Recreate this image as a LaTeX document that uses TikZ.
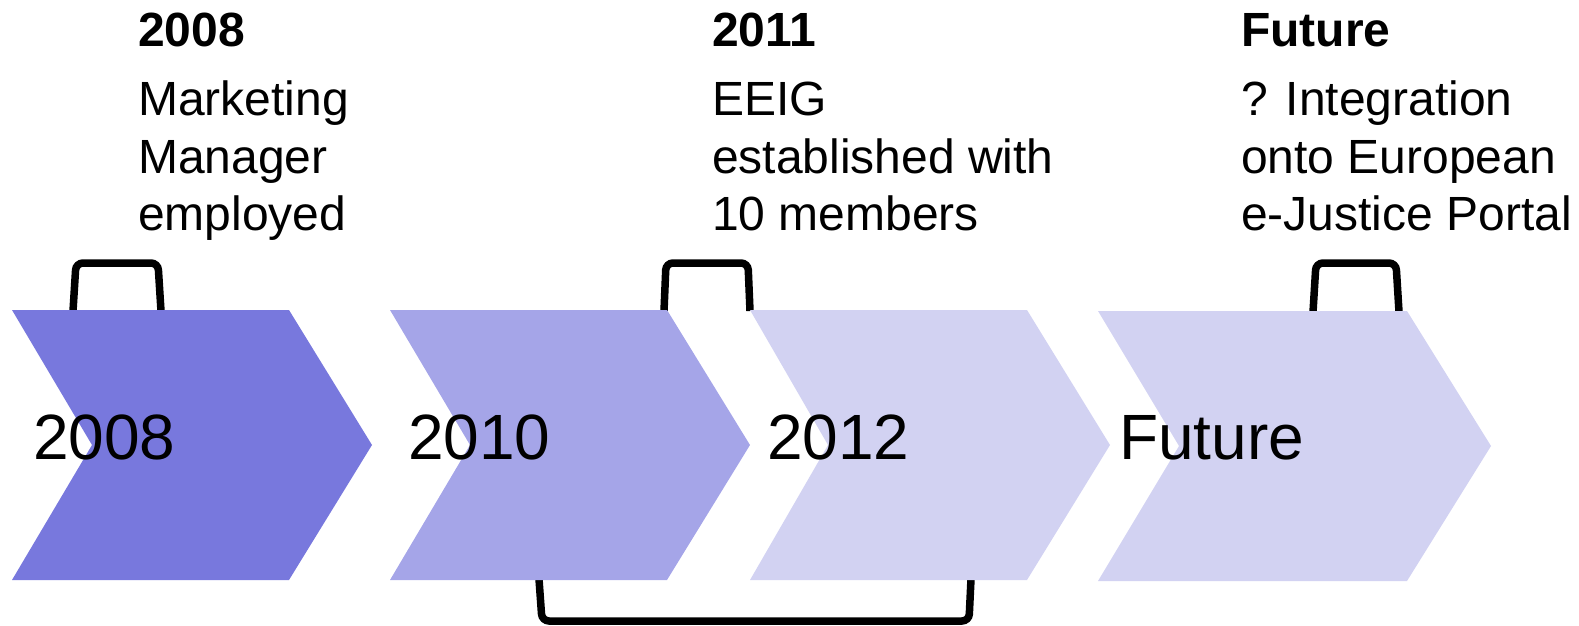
\documentclass[tikz,border=0pt]{standalone}
\usepackage{fontspec}
\setmainfont{Liberation Sans}
\definecolor{cA}{RGB}{120,120,221}
\definecolor{cB}{RGB}{165,165,232}
\definecolor{cC}{RGB}{210,210,242}
\begin{document}
\begin{tikzpicture}[x=1pt,y=-1pt,
  bracket/.style={draw=black,line width=7.5pt,rounded corners=7pt},
  head/.style={anchor=base west,inner sep=0pt,font=\fontsize{48}{58}\selectfont\bfseries},
  body/.style={anchor=base west,inner sep=0pt,font=\fontsize{48}{58}\selectfont},
  big/.style={anchor=base west,inner sep=0pt,font=\fontsize{64}{76}\selectfont}]
\useasboundingbox (0,0) rectangle (1579,626);
% brackets (behind chevrons)
\draw[bracket] (73,311) -- (76,263) -- (158,263) -- (161,311);
\draw[bracket] (664,311) -- (666,263) -- (748,263) -- (750,311);
\draw[bracket] (1313,312) -- (1316,263) -- (1396,263) -- (1399,312);
\draw[bracket] (539,579) -- (542,621) -- (969,621) -- (971,579);
% chevrons
\fill[cA] (12,310) -- (289,310) -- (372,445) -- (289,580) -- (12,580) -- (92,445) -- cycle;
\fill[cB] (390,310) -- (667,310) -- (750,445) -- (667,580) -- (390,580) -- (470,445) -- cycle;
\fill[cC] (750,310) -- (1027,310) -- (1110,445) -- (1027,580) -- (750,580) -- (828,445) -- cycle;
\fill[cC] (1098,311) -- (1407,311) -- (1491,446) -- (1407,581) -- (1098,581) -- (1179,446) -- cycle;
% chevron labels
\node[big] (y1) at (33,459) {2008};
\node[big] (y2) at (408,459) {2010};
\node[big] (y3) at (767,459) {2012};
\node[big] (y4) at (1119,459) {Future};
% column 1
\node[head] (h1) at (138,47) {2008};
\node[body] (a1) at (138,115) {Marketing};
\node[body] (a2) at (138,173) {Manager};
\node[body] (a3) at (138,230) {employed};
% column 2
\node[head] (h2) at (712,47) {2011};
\node[body] (b1) at (712,115) {EEIG};
\node[body] (b2) at (712,173) {established with};
\node[body] (b3) at (712,230) {10 members};
% column 3
\node[head] (h3) at (1241,47) {Future};
\node[body] (c1) at (1241,115) {? Integration};
\node[body] (c2) at (1241,173) {onto European};
\node[body] (c3) at (1241,230) {e-Justice Portal};
\end{tikzpicture}
\end{document}
